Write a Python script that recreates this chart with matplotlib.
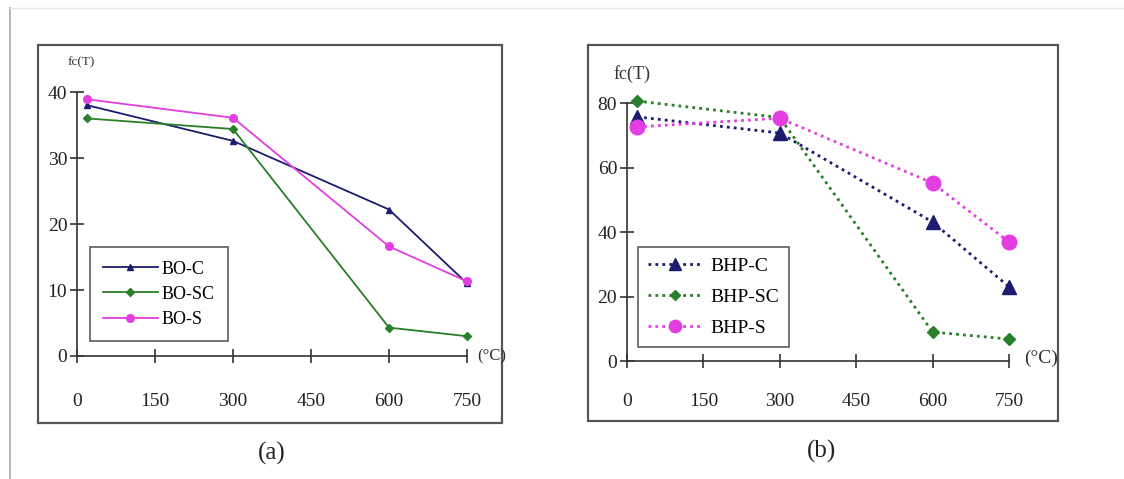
import matplotlib as mpl
mpl.use('Agg')
import matplotlib.pyplot as plt
from matplotlib.patches import Rectangle
from matplotlib.lines import Line2D

temps = [20, 300, 600, 750]
x_ticks = [0, 150, 300, 450, 600, 750]

# panel (a) - BO series
bo_c = [38.0, 32.6, 22.2, 11.0]
bo_sc = [36.0, 34.4, 4.3, 3.0]
bo_s = [38.9, 36.1, 16.6, 11.3]
a_yticks = [0, 10, 20, 30, 40]

# panel (b) - BHP series
bhp_c = [75.7, 70.7, 43.1, 23.0]
bhp_sc = [80.6, 75.5, 9.0, 6.8]
bhp_s = [72.6, 75.3, 55.2, 36.9]
b_yticks = [0, 20, 40, 60, 80]

navy = "#1c1c6e"
green = "#2a7f2a"
magenta = "#e23ee2"
serif = "Liberation Serif"

fig = plt.figure(figsize=(11.24, 4.79), dpi=100)
fig.patch.set_facecolor("white")

# page edge
fig.add_artist(Line2D([0.009, 0.009], [0.0, 0.983], color="#bbbbbb", lw=1.5))
fig.add_artist(Line2D([0.009, 1.0], [0.983, 0.983], color="#e6e6e6", lw=1.0))

# chart frames
for box in [(0.034, 0.117, 0.413, 0.789), (0.523, 0.121, 0.418, 0.785)]:
    fig.add_artist(Rectangle(box[:2], box[2], box[3], transform=fig.transFigure,
                             fill=False, edgecolor="#555555", lw=1.6))


def style_axes(ax, yticks, tick_size, xpad):
    for s in ["top", "right"]:
        ax.spines[s].set_visible(False)
    for s in ["left", "bottom"]:
        ax.spines[s].set_color("#333333")
        ax.spines[s].set_linewidth(1.2)
    ax.set_xlim(0, 750)
    ax.set_ylim(0, yticks[-1])
    ax.set_xticks(x_ticks)
    ax.set_yticks(yticks)
    ax.tick_params(direction="inout", length=10, width=1.2, color="#333333",
                   labelsize=tick_size, labelcolor="#222222")
    ax.tick_params(axis="x", pad=xpad)
    ax.tick_params(axis="y", pad=2)
    for lab in ax.get_xticklabels() + ax.get_yticklabels():
        lab.set_fontfamily(serif)
    ax.set_facecolor("none")


# ---- panel (a)
ax1 = fig.add_axes([0.0685, 0.2568, 0.347, 0.551])
ax1.plot(temps, bo_c, color=navy, lw=1.3, marker="^", ms=5, label="BO-C", clip_on=False)
ax1.plot(temps, bo_sc, color=green, lw=1.3, marker="D", ms=4.5, label="BO-SC", clip_on=False)
ax1.plot(temps, bo_s, color=magenta, lw=1.3, marker="o", ms=5.5, label="BO-S", clip_on=False)
style_axes(ax1, a_yticks, 14, 22)
leg1 = ax1.legend(loc="lower left", bbox_to_anchor=(0.033, 0.055), frameon=True,
                  fancybox=False, edgecolor="#333333", prop={"family": serif, "size": 13},
                  handlelength=3.0, labelspacing=0.45, borderpad=0.75, handletextpad=0.2,
                  borderaxespad=0)
leg1.get_frame().set_linewidth(1.2)
fig.text(0.0605, 0.864, "fc(T)", fontfamily=serif, fontsize=9.5, color="#333333")
fig.text(0.425, 0.257, "(°C)", fontfamily=serif, fontsize=12, color="#333333", va="center")
fig.text(0.242, 0.054, "(a)", fontfamily=serif, fontsize=18, color="#222222", ha="center", va="center")

# ---- panel (b)
ax2 = fig.add_axes([0.5578, 0.2463, 0.3399, 0.5386])
ax2.plot(temps, bhp_c, color=navy, lw=2, ls=(0, (1, 1.5)), marker="^", ms=9.5, label="BHP-C", clip_on=False)
ax2.plot(temps, bhp_sc, color=green, lw=2, ls=(0, (1, 1.5)), marker="D", ms=6.5, label="BHP-SC", clip_on=False)
ax2.plot(temps, bhp_s, color=magenta, lw=2, ls=(0, (1, 1.5)), marker="o", ms=10.5, label="BHP-S", clip_on=False)
style_axes(ax2, b_yticks, 14, 18)
leg2 = ax2.legend(loc="lower left", bbox_to_anchor=(0.03, 0.055), frameon=True,
                  fancybox=False, edgecolor="#333333", prop={"family": serif, "size": 14},
                  handlelength=2.8, labelspacing=0.7, borderpad=0.5, handletextpad=0.4,
                  borderaxespad=0, markerscale=0.85)
leg2.get_frame().set_linewidth(1.2)
fig.text(0.546, 0.835, "fc(T)", fontfamily=serif, fontsize=13, color="#333333")
fig.text(0.911, 0.252, "(°C)", fontfamily=serif, fontsize=14, color="#333333", va="center")
fig.text(0.731, 0.057, "(b)", fontfamily=serif, fontsize=18, color="#222222", ha="center", va="center")

fig.savefig("out.png", dpi=100, facecolor="white")
